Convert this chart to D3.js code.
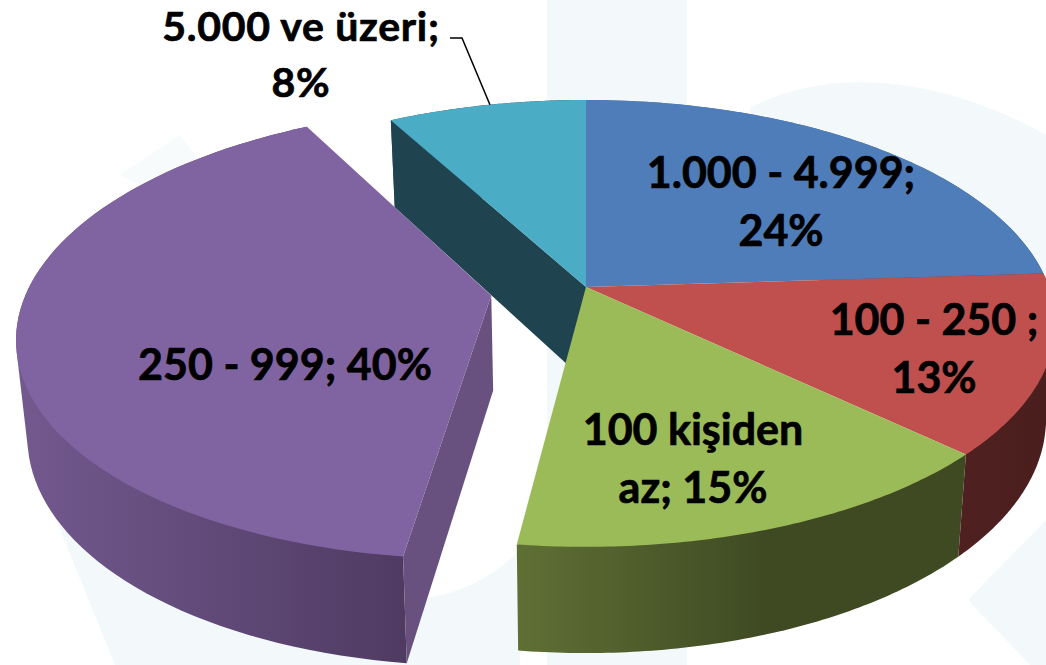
<!DOCTYPE html>
<html>
<head>
<meta charset="utf-8">
<script src="https://d3js.org/d3.v7.min.js"></script>
<style>
  html, body { margin: 0; padding: 0; background: #fff; overflow: hidden; }
  text { font-family: Lato, "Open Sans", sans-serif; font-weight: 700; font-size: 43px; fill: #000; stroke: #000; stroke-width: 0.7px; text-anchor: middle; }
  /* sits right under the top edge, so a bit smaller and spaced out */
  text.top { font-size: 41px; letter-spacing: 0.7px; }
</style>
</head>
<body>
<div id="chart"></div>
<script>
// data, clockwise from 12 o'clock
var categories = ["1.000 - 4.999", "100 - 250 ", "100 kişiden az", "250 - 999", "5.000 ve üzeri"];
var values = [24, 13, 15, 40, 8];
var explode = [0, 0, 0, 0.207, 0];
var topColors = ["#4f7dba", "#c0504d", "#9bbb59", "#8064a2", "#4bacc6"];
var wallLight = ["#4f7dba", "#4f2020", "#5f7035", "#73598f", "#2a6072"];
var wallDark = ["#2b4a70", "#4a1e1e", "#3f4a23", "#4f3b62", "#1f4552"];
var cutColors = ["#2b4a70", "#4a1e1e", "#3f4a23", "#69517f", "#1f4450"];
// label lines and their centre positions
var labelLines = [
  ["1.000 - 4.999;", "24%"],
  ["100 - 250 ;", "13%"],
  ["100 kişiden", "az; 15%"],
  ["250 - 999; 40%"],
  ["5.000 ve üzeri;", "8%"]
];
var labelX = [781, 934, 693, 285, 301];
var labelY = [174, 321, 431, 366, 27];

var width = 1046, height = 665, lineGap = 58;

// pie plane -> screen, with some perspective towards the viewer
var cx = 586, cy = 287, kx = 463, ky = 217.5, persp = 0.163;
function project(u, v) {
  var d = 1 - persp * v;
  return [cx + kx * u / d, cy + ky * v / d];
}
// bottom face of the pie is the top face scaled and pushed down
function lower(p) {
  return [cx + (p[0] - cx) * 0.98, p[1] * 1.045 + 81.6];
}

var svg = d3.select("#chart").append("svg")
  .attr("width", width)
  .attr("height", height);

// faint watermark behind the chart
var mark = svg.append("g").attr("fill", "#f3f8fa");
mark.append("rect").attr("x", 547).attr("y", 0).attr("width", 140).attr("height", 665);
mark.append("path").attr("d", "M750,108 C820,70 930,70 1046,135 L1046,300 L750,300 Z");
mark.append("path").attr("d", "M968,600 L1046,520 L1046,665 L1030,665 Z");
mark.append("path").attr("d", "M40,480 L400,600 Q470,600 520,550 L520,665 L115,665 Z");
mark.append("path").attr("d", "M120,175 L180,135 L197,157 L150,190 Z").attr("fill", "#f8fbfc");

var slices = d3.pie().sort(null).value(function(d) { return d; })(values);

function outerArc(d, i) {
  var off = explode[i], mid = (d.startAngle + d.endAngle) / 2;
  var du = off * Math.sin(mid), dv = -off * Math.cos(mid);
  var steps = d3.range(0, 81).map(function(k) {
    var a = d.startAngle + (d.endAngle - d.startAngle) * k / 80;
    return project(Math.sin(a) + du, -Math.cos(a) + dv);
  });
  return { apex: project(du, dv), pts: steps };
}

var line = d3.line();
var defs = svg.append("defs");
var geo = slices.map(outerArc);

geo.forEach(function(g, i) {
  var xs = g.pts.map(function(p) { return p[0]; });
  var grad = defs.append("linearGradient").attr("id", "wall" + i)
    .attr("gradientUnits", "userSpaceOnUse")
    .attr("x1", d3.min(xs)).attr("x2", d3.max(xs)).attr("y1", 0).attr("y2", 0);
  grad.append("stop").attr("offset", "0%").attr("stop-color", wallLight[i]);
  grad.append("stop").attr("offset", i == 2 ? "55%" : "100%").attr("stop-color", wallDark[i]);
});

// draw order: back slices first
[4, 0, 1, 2, 3].forEach(function(i) {
  var g = geo[i];
  var s = svg.append("g");
  // outer wall: hull of both rims, the inner part gets covered by the top face
  s.append("path")
    .attr("d", line(d3.polygonHull(g.pts.concat(g.pts.map(lower)))) + "Z")
    .attr("fill", "url(#wall" + i + ")");
  // cut faces
  if (i == 3 || i == 4) {
    var e = g.pts[0];
    s.append("path")
      .attr("d", line([e, g.apex, lower(g.apex), lower(e)]) + "Z")
      .attr("fill", cutColors[i]);
  }
  // top face
  s.append("path")
    .attr("d", line([g.apex].concat(g.pts)) + "Z")
    .attr("fill", topColors[i]);
});

// leader line for the small slice
var leader = project(Math.sin(slices[4].startAngle + 0.26), -Math.cos(slices[4].startAngle + 0.26));
svg.append("path")
  .attr("d", line([[450, 38], [462, 38], leader]))
  .attr("fill", "none")
  .attr("stroke", "#000")
  .attr("stroke-width", 1.5);

labelLines.forEach(function(lines, i) {
  var t = svg.append("text")
    .attr("class", i == 4 ? "top" : null)
    .attr("x", labelX[i]).attr("y", labelY[i]);
  lines.forEach(function(l, j) {
    t.append("tspan").attr("x", labelX[i]).attr("y", labelY[i] + j * (i == 4 ? 56 : lineGap) + 14).text(l);
  });
});
</script>
</body>
</html>
